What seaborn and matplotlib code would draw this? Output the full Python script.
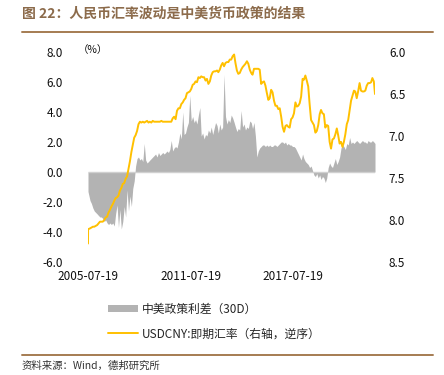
import pandas as pd
import numpy as np
import seaborn as sns
from matplotlib import pyplot as plt
from matplotlib.patches import Patch
from matplotlib.lines import Line2D
from matplotlib.ticker import FormatStrFormatter

# spread China-US policy rate (30D), monthly, % : 2005-07 .. 2022-04
spread_2005 = [-1.3, -1.9, -2.1, -2.4, -2.6, -2.7]
spread_2006 = [-2.8, -2.9, -3.0, -3.0, -3.1, -3.3, -3.2, -3.4, -3.5, -3.4, -3.5, -3.4]
spread_2007 = [-3.6, -2.8, -2.2, -3.7, -2.5, -3.8, -3.3, -2.3, -3.0, -1.2, -2.6, -1.6]
spread_2008 = [-2.3, -1.1, -0.6, 0.4, 0.9, 1.0, 0.8, 0.9, 0.7, 1.9, 0.8, 0.6]
spread_2009 = [0.7, 0.8, 0.9, 1.0, 1.1, 1.2, 1.0, 1.3, 1.1, 1.2, 1.3, 1.2]
spread_2010 = [1.3, 1.4, 1.3, 1.5, 2.1, 1.4, 1.6, 1.7, 1.6, 2.0, 2.6, 2.2]
spread_2011 = [4.0, 2.5, 2.6, 3.0, 3.3, 5.1, 3.4, 3.7, 3.3, 3.5, 3.2, 3.8]
spread_2012 = [4.3, 2.4, 2.6, 2.2, 2.5, 2.4, 2.8, 2.6, 3.0, 2.5, 2.9, 3.3]
spread_2013 = [3.1, 2.6, 3.2, 2.8, 3.0, 6.5, 3.7, 3.2, 3.5, 3.3, 3.8, 3.6]
spread_2014 = [3.3, 3.0, 2.7, 2.9, 2.8, 4.1, 3.0, 3.2, 2.8, 3.0, 2.9, 3.4]
spread_2015 = [3.3, 2.9, 3.3, 2.4, 1.0, 1.4, 1.6, 1.7, 1.8, 1.8, 1.7, 1.8]
spread_2016 = [1.7, 1.8, 1.7, 1.7, 1.8, 1.8, 1.7, 1.8, 1.9, 2.0, 2.0, 1.9]
spread_2017 = [2.0, 1.8, 1.9, 1.8, 1.8, 1.7, 1.7, 1.6, 1.4, 1.2, 1.0, 0.8]
spread_2018 = [1.2, 0.9, 0.7, 0.6, 0.5, 0.3, 0.4, 0.1, -0.2, -0.3, -0.1, -0.4]
spread_2019 = [-0.2, -0.5, -0.3, -0.4, -0.7, -0.4, 0.3, 0.6, 0.4, 0.3, 0.6, 0.9]
spread_2020 = [0.5, 0.7, 1.0, 1.6, 1.8, 1.7, 1.5, 1.9, 1.8, 2.3, 1.9, 2.0]
spread_2021 = [1.9, 2.0, 2.1, 2.0, 1.9, 2.0, 2.1, 2.0, 2.0, 1.9, 2.1, 2.0]
spread_2022 = [2.0, 2.1, 2.0, 1.9]

# USDCNY spot (right axis, inverted): 2005-07-19, 2005-07-21, then month ends
cny_start = [8.28, 8.11]
cny_2005 = [8.10, 8.09, 8.08, 8.08, 8.07]
cny_2006 = [8.06, 8.04, 8.02, 8.02, 8.02, 8.00, 7.97, 7.96, 7.91, 7.88, 7.84, 7.81]
cny_2007 = [7.77, 7.74, 7.73, 7.71, 7.65, 7.62, 7.57, 7.56, 7.51, 7.48, 7.39, 7.30]
cny_2008 = [7.19, 7.11, 7.02, 6.99, 6.94, 6.86, 6.83, 6.84, 6.83, 6.84, 6.83, 6.82]
cny_2009 = [6.84, 6.83, 6.84, 6.82, 6.83, 6.83, 6.83, 6.83, 6.83, 6.82, 6.83, 6.83]
cny_2010 = [6.83, 6.83, 6.83, 6.83, 6.83, 6.79, 6.77, 6.80, 6.70, 6.67, 6.67, 6.62]
cny_2011 = [6.60, 6.57, 6.55, 6.49, 6.48, 6.47, 6.44, 6.39, 6.38, 6.35, 6.36, 6.30]
cny_2012 = [6.31, 6.29, 6.30, 6.30, 6.34, 6.32, 6.38, 6.35, 6.28, 6.24, 6.23, 6.23]
cny_2013 = [6.22, 6.24, 6.21, 6.16, 6.13, 6.17, 6.13, 6.12, 6.12, 6.09, 6.09, 6.05]
cny_2014 = [6.03, 6.13, 6.22, 6.26, 6.25, 6.21, 6.18, 6.16, 6.14, 6.11, 6.14, 6.21]
cny_2015 = [6.25, 6.27, 6.20, 6.20, 6.20, 6.20, 6.21, 6.38, 6.36, 6.35, 6.40, 6.49]
cny_2016 = [6.57, 6.55, 6.45, 6.48, 6.58, 6.64, 6.64, 6.68, 6.67, 6.77, 6.89, 6.95]
cny_2017 = [6.88, 6.87, 6.89, 6.90, 6.80, 6.78, 6.73, 6.60, 6.65, 6.64, 6.61, 6.53]
cny_2018 = [6.32, 6.33, 6.28, 6.34, 6.41, 6.62, 6.81, 6.84, 6.87, 6.96, 6.94, 6.87]
cny_2019 = [6.74, 6.69, 6.73, 6.74, 6.90, 6.87, 6.88, 7.07, 7.15, 7.04, 7.03, 6.98]
cny_2020 = [6.91, 6.99, 7.09, 7.07, 7.13, 7.07, 6.98, 6.86, 6.81, 6.69, 6.58, 6.52]
cny_2021 = [6.46, 6.47, 6.55, 6.47, 6.37, 6.46, 6.47, 6.47, 6.46, 6.40, 6.37, 6.37]
cny_2022 = [6.36, 6.31, 6.35, 6.50]

xtick_labels = ['2005-07-19', '2011-07-19', '2017-07-19']
left_ticks = [8.0, 6.0, 4.0, 2.0, 0.0, -2.0, -4.0, -6.0]
right_ticks = [6.0, 6.5, 7.0, 7.5, 8.0, 8.5]

spread = (spread_2005 + spread_2006 + spread_2007 + spread_2008 + spread_2009 + spread_2010
          + spread_2011 + spread_2012 + spread_2013 + spread_2014 + spread_2015 + spread_2016
          + spread_2017 + spread_2018 + spread_2019 + spread_2020 + spread_2021 + spread_2022)
cny = (cny_start + cny_2005 + cny_2006 + cny_2007 + cny_2008 + cny_2009 + cny_2010 + cny_2011
       + cny_2012 + cny_2013 + cny_2014 + cny_2015 + cny_2016 + cny_2017 + cny_2018 + cny_2019
       + cny_2020 + cny_2021 + cny_2022)

month_ends = list(pd.date_range('2005-08-31', '2022-03-31', freq='ME'))
spread_dates = [pd.Timestamp('2005-07-19')] + month_ends + [pd.Timestamp('2022-04-25')]
cny_dates = [pd.Timestamp('2005-07-19'), pd.Timestamp('2005-07-21')] + month_ends + [pd.Timestamp('2022-04-25')]

df_spread = pd.DataFrame({'date': spread_dates, 'spread': spread})
df_cny = pd.DataFrame({'date': cny_dates, 'usdcny': cny})

sns.set_style('white')
plt.rcParams['font.family'] = ['Noto Sans CJK SC', 'DejaVu Sans']
plt.rcParams['axes.unicode_minus'] = False

fig = plt.figure(figsize=(4.44, 3.75), dpi=100)
ax = fig.add_axes([88 / 444, 1 - 262 / 375, 287 / 444, 210 / 375])
ax2 = ax.twinx()

gray = '#b3b3b3'
gold = '#ffc000'

ax.fill_between(df_spread['date'], 0, df_spread['spread'], color=gray, lw=0)
ax.hlines(0, df_spread['date'].iloc[0], df_spread['date'].iloc[-1], color='#d0d0d0', lw=1)
sns.lineplot(data=df_cny, x='date', y='usdcny', ax=ax2, color=gold, lw=1.4)

ax.set_ylim(-6, 8)
ax.set_yticks(left_ticks)
ax.yaxis.set_major_formatter(FormatStrFormatter('%.1f'))
ax2.set_ylim(8.5, 6.0)
ax2.set_yticks(right_ticks)
ax2.yaxis.set_major_formatter(FormatStrFormatter('%.1f'))
ax.set_xlim(df_spread['date'].iloc[0], df_spread['date'].iloc[-1])
ax.set_xticks([pd.Timestamp(t) for t in xtick_labels])
ax.set_xticklabels(xtick_labels)

for a in (ax, ax2):
    for s in a.spines.values():
        s.set_visible(False)
    a.tick_params(length=0, labelsize=8.5, colors='#111111')
    a.set_xlabel('')
    a.set_ylabel('')
ax.tick_params(axis='y', pad=18)
ax2.tick_params(axis='y', pad=10)
ax.tick_params(axis='x', pad=6)

ax.text(-0.035, 1.01, '（%）', transform=ax.transAxes, fontsize=7.5, va='center', ha='left', color='#111111')

handles = [Patch(color=gray, lw=0), Line2D([], [], color=gold, lw=1.4)]
fig.legend(handles, ['中美政策利差（30D）', 'USDCNY:即期汇率（右轴，逆序）'],
           loc='upper left', bbox_to_anchor=(97 / 444, 1 - 292 / 375), frameon=False,
           fontsize=8.5, handlelength=2.6, handleheight=0.6, handletextpad=0.3, labelspacing=1.0)

fig.text(22 / 444, 1 - 14 / 375, '图 22：人民币汇率波动是中美货币政策的结果', fontsize=10,
         weight='bold', color='#8c6b4b', va='center', ha='left')
fig.add_artist(Line2D([22 / 444, 433 / 444], [1 - 32 / 375] * 2, transform=fig.transFigure,
                      color='#a57c52', lw=1.4))
fig.add_artist(Line2D([22 / 444, 433 / 444], [1 - 355 / 375] * 2, transform=fig.transFigure,
                      color='#a57c52', lw=1.4))
fig.text(22 / 444, 1 - 366 / 375, '资料来源：Wind，德邦研究所', fontsize=7.5, color='#333333',
         va='center', ha='left')

fig.savefig('out.png', dpi=100)
